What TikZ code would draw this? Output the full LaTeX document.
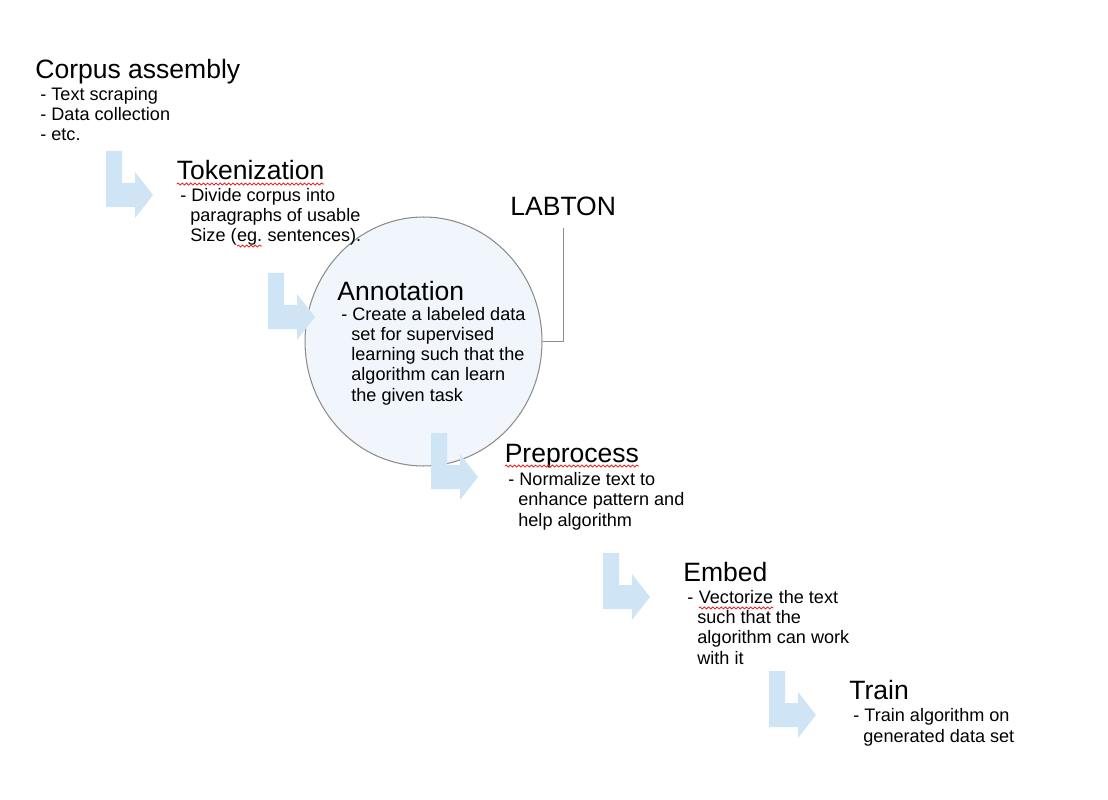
\documentclass[tikz,border=0pt]{standalone}
\usepackage{fontspec}
\setmainfont{Liberation Sans}
\usetikzlibrary{shapes.geometric,decorations.pathmorphing}

\definecolor{arrowblue}{RGB}{207,228,244}
\definecolor{circfill}{RGB}{240,246,251}
\definecolor{circline}{RGB}{140,140,140}
\definecolor{spellred}{RGB}{228,40,40}

\tikzset{
  steptitle/.style={anchor=base west, inner sep=0pt, font=\fontsize{15.1}{18}\selectfont},
  % placed at the baseline of the last line
  stepitems/.style={anchor=base west, inner sep=0pt, align=left, font=\fontsize{10.3}{11.4}\selectfont},
  flowarrow/.style={fill=arrowblue},
  squiggle/.style={draw=spellred, line width=0.5pt, decorate,
    decoration={snake, segment length=2.4pt, amplitude=0.55pt}},
  connector/.style={draw=circline, line width=0.6pt}
}
% continuation indent and spell-check mark
\newcommand{\cont}{\hspace*{5.7pt}}
\newcommand{\spellmark}[1]{\tikz[baseline=(sp.base)]{\node[inner sep=0pt, outer sep=0pt] (sp) {#1};
  \draw[squiggle] ([yshift=-2.3pt]sp.base west) -- ([yshift=-2.3pt]sp.base east);}}

\begin{document}
\begin{tikzpicture}[x=0.02cm, y=-0.02cm]
  \useasboundingbox (0,0) rectangle (1108,800);

  % Annotation circle
  \node[draw=circline, line width=0.6pt, fill=circfill, ellipse, minimum width=4.74cm, minimum height=4.98cm] (circ) at (423.5,341.5) {};

  % Titles
  \node[steptitle] (corpus) at (35,79) {Corpus assembly};
  \node[steptitle] (tok) at (176,180) {\spellmark{Tokenization}};
  \node[steptitle] (labton) at (510,216) {LABTON};
  \node[steptitle] (annot) at (337,300) {Annotation};
  \node[steptitle] (prep) at (504,462) {\spellmark{Preprocess}};
  \node[steptitle] (embed) at (683,581) {Embed};
  \node[steptitle] (train) at (849,699) {Train};

  % Descriptions
  \node[stepitems] (corpus-d) at (40,141) {- Text scraping\\- Data collection\\- etc.};
  \node[stepitems] (tok-d) at (180,242) {- Divide corpus into\\\cont paragraphs of usable\\\cont Size (\spellmark{eg.} sentences).};
  \node[stepitems] (annot-d) at (341,401) {- Create a labeled data\\\cont set for supervised\\\cont learning such that the\\\cont algorithm can learn\\\cont the given task};
  \node[stepitems] (prep-d) at (508,526) {- Normalize text to\\\cont enhance pattern and\\\cont help algorithm};
  \node[stepitems] (embed-d) at (687,664) {- \spellmark{Vectorize} the text\\\cont such that the\\\cont algorithm can work\\\cont with it};
  \node[stepitems] (train-d) at (853,742) {- Train algorithm on\\\cont generated data set};

  % LABTON link
  \draw[connector] (labton.south) ++(0,11) |- (circ.east);

  % Arrows
  \foreach \ax/\ay in {106/151, 268/273, 431/433, 603/553, 769/671}
    \fill[flowarrow, shift={(\ax,\ay)}] (0,0) -- (16,0) -- (16,32) -- (29,32) -- (29,21)
      -- (47,44) -- (29,67) -- (29,56) -- (0,56) -- cycle;
\end{tikzpicture}
\end{document}
